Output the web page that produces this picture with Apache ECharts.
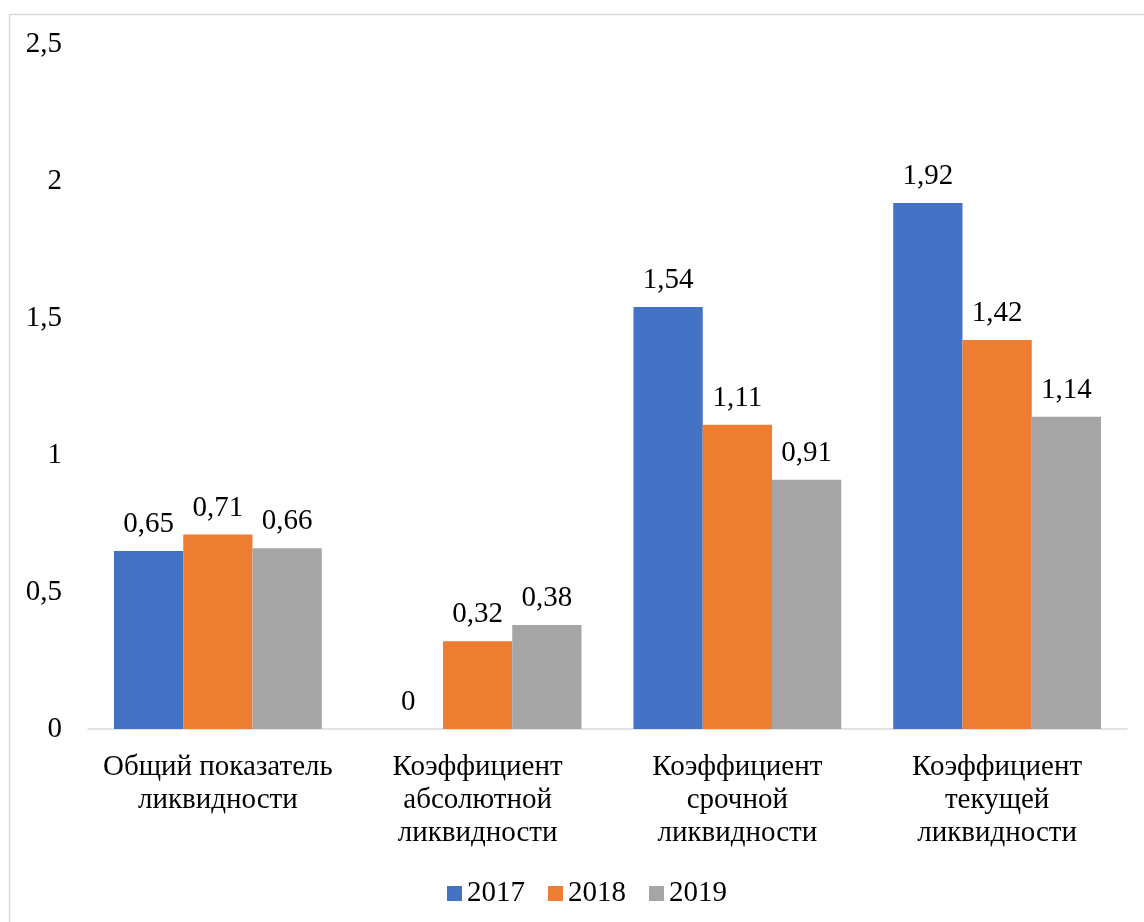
<!DOCTYPE html>
<html>
<head>
<meta charset="utf-8">
<style>
  html, body { margin: 0; padding: 0; background: #ffffff; }
  #chart { width: 1144px; height: 922px; }
</style>
<script src="https://cdn.jsdelivr.net/npm/echarts@6/dist/echarts.min.js"></script>
</head>
<body>
<div id="chart"></div>
<script>
// Liquidity ratios by year
const categories = [
  'Общий показатель\nликвидности',
  'Коэффициент\nабсолютной\nликвидности',
  'Коэффициент\nсрочной\nликвидности',
  'Коэффициент\nтекущей\nликвидности'
];
const years = ['2017', '2018', '2019'];
const values2017 = [0.65, 0, 1.54, 1.92];
const values2018 = [0.71, 0.32, 1.11, 1.42];
const values2019 = [0.66, 0.38, 0.91, 1.14];
const colors = ['#4472C4', '#ED7D31', '#A5A5A5'];

const FONT = '"Liberation Serif", "Times New Roman", serif';
const SIZE = 29;
const fmt = v => String(v).replace('.', ',');

const chart = echarts.init(document.getElementById('chart'), null, { renderer: 'canvas' });

const seriesData = [values2017, values2018, values2019];

chart.setOption({
  animation: false,
  backgroundColor: '#ffffff',
  color: colors,
  textStyle: { fontFamily: FONT, color: '#000000' },
  graphic: [{
    type: 'rect',
    shape: { x: 9.5, y: 14.5, width: 1300, height: 1000 },
    style: { fill: 'none', stroke: '#d9d9d9', lineWidth: 1.5 },
    silent: true
  }],
  grid: { left: 88, right: 17, top: 44, bottom: 193, containLabel: false },
  legend: {
    bottom: 14,
    left: 447,
    padding: 0,
    itemWidth: 15,
    itemHeight: 15,
    itemGap: 23,
    icon: 'rect',
    textStyle: { fontFamily: FONT, fontSize: SIZE, color: '#000000' },
    data: years
  },
  xAxis: {
    type: 'category',
    data: categories,
    axisLine: { show: true, lineStyle: { color: '#d9d9d9', width: 1.5 } },
    axisTick: { show: false },
    axisLabel: {
      interval: 0,
      margin: 22,
      fontFamily: FONT,
      fontSize: SIZE,
      lineHeight: 33,
      color: '#000000'
    }
  },
  yAxis: {
    type: 'value',
    min: 0,
    max: 2.5,
    interval: 0.5,
    splitLine: { show: false },
    axisLine: { show: false },
    axisTick: { show: false },
    axisLabel: {
      margin: 26,
      fontFamily: FONT,
      fontSize: SIZE,
      color: '#000000',
      formatter: v => fmt(v)
    }
  },
  series: years.map((y, i) => ({
    name: y,
    type: 'bar',
    data: seriesData[i],
    barGap: '0%',
    barCategoryGap: '20%',
    itemStyle: { color: colors[i] },
    label: {
      show: true,
      position: 'top',
      distance: 12,
      fontFamily: FONT,
      fontSize: SIZE,
      color: '#000000',
      formatter: p => fmt(p.value)
    }
  }))
});
</script>
</body>
</html>
